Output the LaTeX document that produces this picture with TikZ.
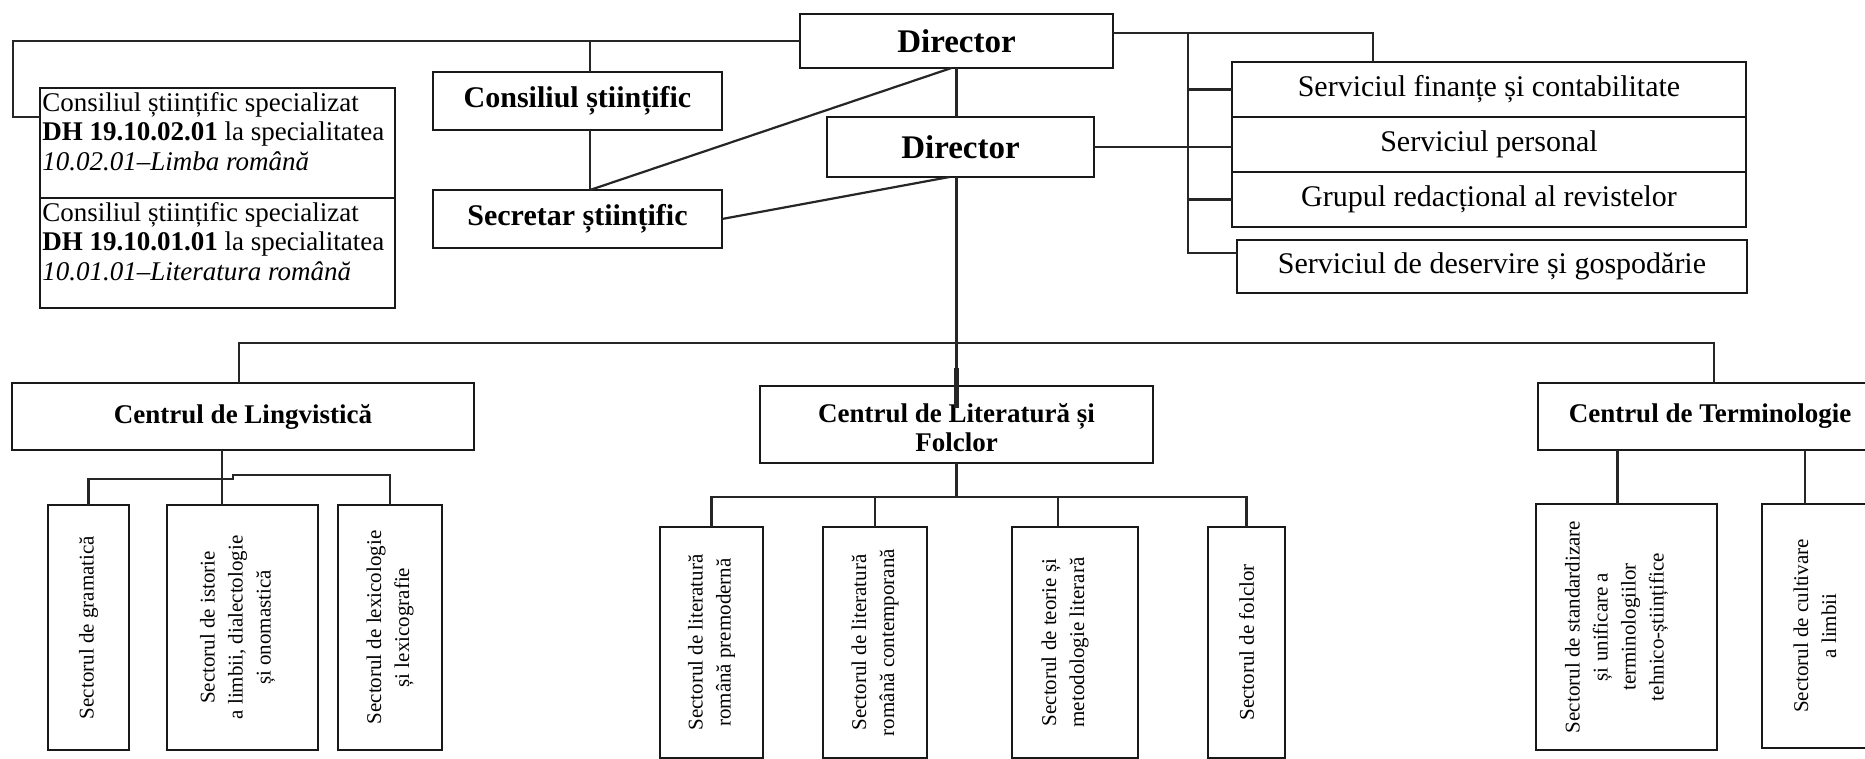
\documentclass[tikz,border=0pt]{standalone}
\usepackage{fontspec}
\setmainfont{Liberation Serif}
\usetikzlibrary{calc}
\begin{document}
\begin{tikzpicture}[x=0.5pt,y=-0.5pt,
  box/.style n args={2}{draw=black!90, line width=1.15pt, inner sep=0pt, outer sep=0pt,
    minimum width=#1*0.5pt, minimum height=#2*0.5pt, align=center},
  ln/.style={line width=1.1pt, draw=black!85},
  bigb/.style={font=\fontsize{16.5}{19}\selectfont\bfseries},
  midb/.style={font=\fontsize{15}{18}\selectfont\bfseries},
  srvf/.style={font=\fontsize{15}{18}\selectfont},
  cenf/.style={font=\fontsize{13.5}{14.5}\selectfont\bfseries},
  secf/.style={font=\fontsize{10.5}{14}\selectfont, rotate=90, align=center, inner sep=0pt},
  spf/.style={font=\fontsize{13.5}{14.75}\selectfont, align=left, inner sep=0pt, anchor=north west}
]
\fill[white] (0,0) rectangle (1865,759);
\useasboundingbox (0,0) rectangle (1865,759);
\clip (0,0) rectangle (1865,759);

% ---------- upper part ----------
\node[box={313}{54}, bigb] (dA) at (956.5,41) {Director};
\node[box={267}{60}, bigb] (dB) at (960.5,147) {Director};
\node[box={289}{58}, midb] (cs) at (577.5,101) {Consiliul științific};
\node[box={289}{58}, midb] (sec) at (577.5,219) {Secretar științific};

\node[box={355}{110}] (csp1) at (217.5,143) {};
\node[box={355}{110}] (csp2) at (217.5,253) {};
\node[spf] (csp1t) at (42,92) {Consiliul științific specializat\\
  \textbf{DH 19.10.02.01} la specialitatea\\
  \textit{10.02.01–Limba română}};
\node[spf] (csp2t) at (42,202) {Consiliul științific specializat\\
  \textbf{DH 19.10.01.01} la specialitatea\\
  \textit{10.01.01–Literatura română}};

\node[box={514}{55}, srvf] (srv1) at (1489,89.5) {Serviciul finanțe și contabilitate};
\node[box={514}{55}, srvf] (srv2) at (1489,144.5) {Serviciul personal};
\node[box={514}{55}, srvf] (srv3) at (1489,199.5) {Grupul redacțional al revistelor};
\node[box={510}{53}, srvf] (srv4) at (1492,266.5) {Serviciul de deservire și gospodărie};

% ---------- centres ----------
\node[box={462}{67}, cenf] (cl) at (243,416.5) {Centrul de Lingvistică};
\node[box={393}{77}] (clit) at (956.5,424.5) {};
\node[cenf, align=center, inner sep=0pt] (clitt) at (956.5,428) {Centrul de Literatură și\\Folclor};
\node[box={344}{67}, cenf] (ct) at (1710,416.5) {Centrul de Terminologie};

% ---------- sectors ----------
\node[box={81}{245}] (s1) at (88.5,627.5) {};
\node[box={151}{245}] (s2) at (242.5,627.5) {};
\node[box={104}{245}] (s3) at (390,627.5) {};
\node[box={103}{231}] (s4) at (711.5,642.5) {};
\node[box={104}{231}] (s5) at (875,642.5) {};
\node[box={126}{231}] (s6) at (1075,642.5) {};
\node[box={77}{231}] (s7) at (1246.5,642.5) {};
\node[box={181}{246}] (s8) at (1626.5,627) {};
\node[box={106}{244}] (s9) at (1815,626) {};

\node[secf] (s1t) at (s1) {Sectorul de gramatică};
\node[secf] (s2t) at ($(s2)+(-5,0)$) {Sectorul de istorie\\a limbii, dialectologie\\și onomastică};
\node[secf] (s3t) at (s3) {Sectorul de lexicologie\\și lexicografie};
\node[secf] (s4t) at (s4) {Sectorul de literatură\\română premodernă};
\node[secf] (s5t) at (s5) {Sectorul de literatură\\română contemporană};
\node[secf] (s6t) at ($(s6)+(-10,0)$) {Sectorul de teorie și\\metodologie literară};
\node[secf] (s7t) at (s7) {Sectorul de folclor};
\node[secf] (s8t) at ($(s8)+(-10,0)$) {Sectorul de standardizare\\și unificare a\\terminologiilor\\tehnico-științifice};
\node[secf] (s9t) at (s9) {Sectorul de cultivare\\a limbii};

% ---------- connectors: top ----------
\coordinate (tl) at (13,117);
\coordinate (tk) at (590,41);
\draw[ln] (dA.west) -| (tl) -- (tl -| csp1.west);
\draw[ln] (tk) -- (tk |- cs.north);
\draw[ln] (cs.south -| tk) -- (sec.north -| tk);
\draw[ln] ($(dA.south)+(-5,0)$) -- (sec.north -| tk);
\draw[ln] (dA.south) -- (dA.south |- dB.north);
\draw[ln] (sec.east) -- ($(dA.south |- dB.south)+(-7,0)$);

% right side
\coordinate (dAr) at (1113,33);
\coordinate (tr) at (1373,33);
\coordinate (rb) at (1188,33);
\coordinate (rbe) at (1188,253);
\draw[ln] (dAr) -- (tr) -- (tr |- srv1.north);
\draw[ln] (rb) -- (rbe) -- (rbe -| srv4.west);
\draw[ln] (rb |- srv1.west) -- (srv1.west);
\draw[ln] (rb |- srv3.west) -- (srv3.west);
\draw[ln] (dB.east) -- (dB.east -| srv2.west);

% main vertical and bus
\draw[ln] (dA.south |- dB.south) -- (dA.south |- clit.north);
\draw[line width=2.2pt, black!85] (956.5,368) -- (956.5,408);
\coordinate (bL) at (239,343);
\coordinate (bR) at (1714,343);
\draw[ln] (cl.north -| bL) -- (bL) -- (bR) -- (bR |- ct.north);

% Lingvistica subtree
\coordinate (lst) at (222,479);
\coordinate (ljog) at (233,479);
\draw[ln] (cl.south -| lst) -- (lst |- s2.north);
\draw[ln] (s1.north) -- (s1.north |- lst) -- (ljog) -- ++(0,-4) -| (s3.north);

% Literatura subtree
\coordinate (litb) at (956.5,497);
\draw[ln] (clit.south) -- (litb);
\draw[ln] (s4.north) |- (litb) -| (s7.north);
\draw[ln] (s5.north) -- (s5.north |- litb);
\draw[ln] ($(s6.north)+(-17,0)$) -- ($(s6.north |- litb)+(-17,0)$);

% Terminologie subtree
\draw[ln] ($(s8.north)+(-9,0)$) -- ($(s8.north |- ct.south)+(-9,0)$);
\draw[ln] ($(s9.north)+(-10,0)$) -- ($(s9.north |- ct.south)+(-10,0)$);
\end{tikzpicture}
\end{document}
